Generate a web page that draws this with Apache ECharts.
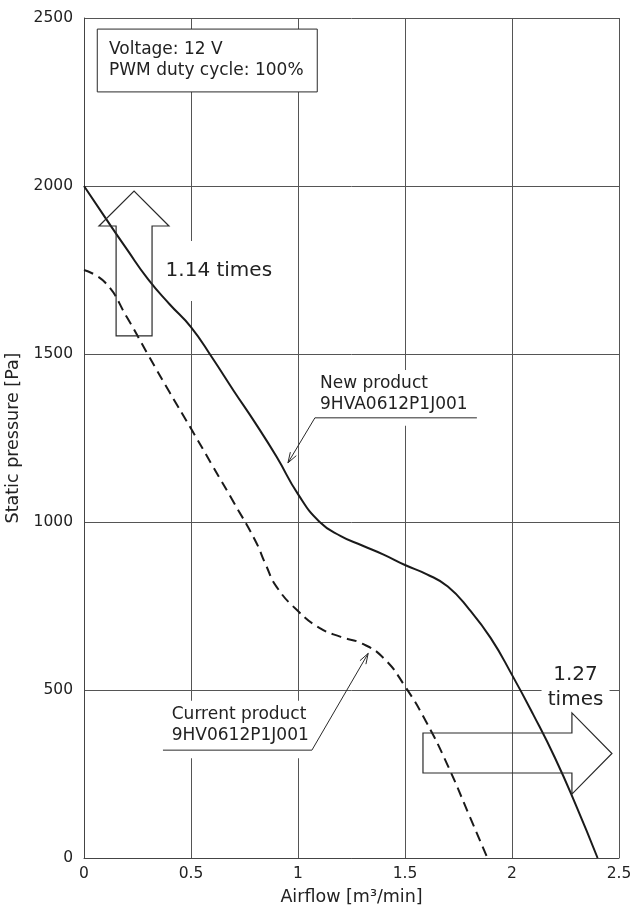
<!DOCTYPE html>
<html>
<head>
<meta charset="utf-8">
<script src="https://cdn.jsdelivr.net/npm/echarts@6/dist/echarts.min.js"></script>
<style>html,body{margin:0;padding:0;background:#fff;}#main{width:633px;height:915px;}</style>
</head>
<body>
<div id="main"></div>
<script>
// ---- Data ----
const newAirflow = [0, 0.1, 0.2, 0.3, 0.4, 0.5, 0.6, 0.7, 0.8, 0.9, 1.0, 1.1, 1.2, 1.3, 1.4, 1.5, 1.6, 1.7, 1.8, 1.9, 2.0, 2.1, 2.2, 2.3, 2.4];
const newPressure = [2000, 1905, 1812, 1722, 1648, 1580, 1488, 1390, 1295, 1194, 1083, 1001, 958, 930, 903, 872, 845, 808, 740, 655, 545, 426, 299, 155, 0];

const curAirflow = [0, 0.1, 0.2, 0.3, 0.4, 0.5, 0.6, 0.7, 0.8, 0.85, 0.9, 1.0, 1.1, 1.2, 1.3, 1.4, 1.5, 1.6, 1.7, 1.8, 1.885];
const curPressure = [1750, 1712, 1610, 1497, 1386, 1278, 1168, 1058, 945, 872, 807, 735, 685, 658, 638, 595, 511, 404, 275, 127, 0];

const xTicks = [0, 0.5, 1, 1.5, 2, 2.5];
const yTicks = [0, 500, 1000, 1500, 2000, 2500];

const seriesNames = ['New product 9HVA0612P1J001', 'Current product 9HV0612P1J001'];
const conditionText = ['Voltage: 12 V', 'PWM duty cycle: 100%'];
const ratioPressure = '1.14 times';
const ratioAirflow = ['1.27', 'times'];
const newLabel = ['New product', '9HVA0612P1J001'];
const curLabel = ['Current product', '9HV0612P1J001'];

// ---- Chart ----
const FONT = 'DejaVu Sans';
const INK = '#222';
const chart = echarts.init(document.getElementById('main'), null, {renderer: 'canvas'});

const option = {
  animation: false,
  backgroundColor: '#fff',
  grid: {left: 84, right: 14, top: 18, bottom: 57, containLabel: false, outerBoundsMode: 'none'},
  xAxis: {
    type: 'value', min: xTicks[0], max: xTicks[xTicks.length - 1], interval: 0.5,
    name: 'Airflow [m³/min]', nameLocation: 'middle', nameGap: 30,
    nameTextStyle: {fontFamily: FONT, fontSize: 17.5, color: INK},
    axisLine: {show: true, lineStyle: {color: '#444', width: 1}},
    axisTick: {show: false},
    axisLabel: {fontFamily: FONT, fontSize: 15.5, color: INK, margin: 8,
      formatter: v => String(v)},
    splitLine: {show: true, lineStyle: {color: '#555', width: 1}}
  },
  yAxis: {
    type: 'value', min: yTicks[0], max: yTicks[yTicks.length - 1], interval: 500,
    name: 'Static pressure [Pa]', nameLocation: 'middle', nameGap: 57, nameRotate: 90,
    nameTextStyle: {fontFamily: FONT, fontSize: 17.5, color: INK},
    axisLine: {show: true, lineStyle: {color: '#444', width: 1}},
    axisTick: {show: false},
    axisLabel: {fontFamily: FONT, fontSize: 15.5, color: INK, margin: 11,
      formatter: v => String(v)},
    splitLine: {show: true, lineStyle: {color: '#555', width: 1}}
  },
  series: [
    {
      name: seriesNames[0], type: 'line', smooth: 0.5, showSymbol: false, z: 5,
      lineStyle: {color: '#1a1a1a', width: 2},
      data: newAirflow.map((x, i) => [x, newPressure[i]])
    },
    {
      name: seriesNames[1], type: 'line', smooth: 0.5, showSymbol: false, z: 5,
      lineStyle: {color: '#1a1a1a', width: 2, type: [10, 6]},
      data: curAirflow.map((x, i) => [x, curPressure[i]])
    }
  ]
};
chart.setOption(option);

function P(x, y) { return chart.convertToPixel({gridIndex: 0}, [x, y]); }
const g = [];
const STROKE = '#2a2a2a';

// condition box
(function () {
  const a = P(0.062, 2467), b = P(1.09, 2280);
  g.push({type: 'rect', z: 100, shape: {x: a[0], y: a[1], width: b[0] - a[0], height: b[1] - a[1]},
    style: {fill: '#fff', stroke: STROKE, lineWidth: 1}});
  const t1 = P(0.117, 2405), t2 = P(0.117, 2345);
  g.push({type: 'text', z: 101, style: {text: conditionText[0], x: t1[0], y: t1[1], fontFamily: FONT, fontSize: 17, fill: INK, align: 'left', verticalAlign: 'middle'}});
  g.push({type: 'text', z: 101, style: {text: conditionText[1], x: t2[0], y: t2[1], fontFamily: FONT, fontSize: 17, fill: INK, align: 'left', verticalAlign: 'middle'}});
})();

// block arrows
function blockArrow(pts) {
  g.push({type: 'polygon', z: 90, shape: {points: pts.map(p => P(p[0], p[1]))},
    style: {fill: 'none', stroke: STROKE, lineWidth: 1.2}});
}
blockArrow([[0.15, 1554], [0.318, 1554], [0.318, 1881], [0.397, 1881], [0.234, 1985], [0.07, 1881], [0.15, 1881]]);
blockArrow([[1.584, 372], [2.280, 372], [2.280, 432], [2.467, 311], [2.280, 190], [2.280, 253], [1.584, 253]]);

// ratio texts
(function () {
  const p = P(0.63, 1750);
  g.push({type: 'rect', z: 4, shape: {x: p[0] - 58, y: p[1] - 29, width: 116, height: 60}, style: {fill: '#fff'}});
  g.push({type: 'text', z: 95, style: {text: ratioPressure, x: p[0], y: p[1] + 1, fontFamily: FONT, fontSize: 20, fill: INK,
    align: 'center', verticalAlign: 'middle'}});
  const q1 = P(2.297, 545), q2 = P(2.297, 470);
  g.push({type: 'rect', z: 4, shape: {x: q1[0] - 34, y: q1[1] - 12, width: 68, height: 50}, style: {fill: '#fff'}});
  g.push({type: 'text', z: 95, style: {text: ratioAirflow[0], x: q1[0], y: q1[1], fontFamily: FONT, fontSize: 20, fill: INK, align: 'center', verticalAlign: 'middle'}});
  g.push({type: 'text', z: 95, style: {text: ratioAirflow[1], x: q2[0], y: q2[1], fontFamily: FONT, fontSize: 20, fill: INK, align: 'center', verticalAlign: 'middle'}});
})();

// product labels with leader arrows
function productLabel(lines, textX, y1, y2, ulY, ulX0, ulX1, tip, startAtRight) {
  const a = P(ulX0, ulY), b = P(ulX1, ulY);
  const top = P(textX, y1);
  g.push({type: 'rect', z: 4, shape: {x: a[0], y: top[1] - 14, width: b[0] - a[0], height: a[1] - top[1] + 14 + 8}, style: {fill: '#fff'}});
  const t1 = P(textX, y1), t2 = P(textX, y2);
  g.push({type: 'text', z: 96, style: {text: lines[0], x: t1[0], y: t1[1], fontFamily: FONT, fontSize: 17, fill: INK, align: 'left', verticalAlign: 'middle'}});
  g.push({type: 'text', z: 96, style: {text: lines[1], x: t2[0], y: t2[1], fontFamily: FONT, fontSize: 17, fill: INK, align: 'left', verticalAlign: 'middle'}});
  g.push({type: 'line', z: 96, shape: {x1: a[0], y1: a[1], x2: b[0], y2: b[1]}, style: {stroke: STROKE, lineWidth: 1}});
  const s = startAtRight ? b : a;
  const t = P(tip[0], tip[1]);
  g.push({type: 'line', z: 96, shape: {x1: s[0], y1: s[1], x2: t[0], y2: t[1]}, style: {stroke: STROKE, lineWidth: 1}});
  const ang = Math.atan2(t[1] - s[1], t[0] - s[0]);
  const L = 11, w = 0.32;
  const h1 = [t[0] - L * Math.cos(ang - w), t[1] - L * Math.sin(ang - w)];
  const h2 = [t[0] - L * Math.cos(ang + w), t[1] - L * Math.sin(ang + w)];
  g.push({type: 'polyline', z: 96, shape: {points: [h1, t, h2]}, style: {stroke: STROKE, lineWidth: 1, fill: 'none'}});
}
productLabel(newLabel, 1.103, 1411, 1348, 1310, 1.079, 1.836, [0.953, 1176], false);
productLabel(curLabel, 0.41, 426, 363, 321, 0.369, 1.065, [1.328, 609], true);

chart.setOption({graphic: {elements: g}});
</script>
</body>
</html>
